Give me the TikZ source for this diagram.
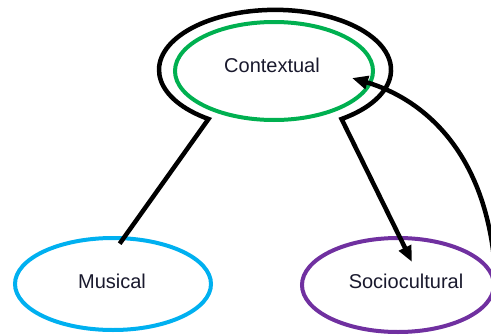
\documentclass[tikz,border=0pt]{standalone}
\usepackage{fontspec}
\setmainfont{Liberation Sans}
\usetikzlibrary{arrows.meta,shapes.geometric}
\definecolor{ctxgreen}{RGB}{0,176,80}
\definecolor{musblue}{RGB}{0,176,240}
\definecolor{socpurple}{RGB}{112,48,160}
\definecolor{labelink}{RGB}{25,25,45}
\begin{document}
\begin{tikzpicture}[x=1pt,y=1pt,
  ell/.style={draw=#1, line width=4pt, ellipse, inner sep=0pt},
  lbl/.style={text=labelink, font=\fontsize{20}{24}\selectfont, inner sep=0pt},
  blk/.style={draw=black, line width=4.5pt},
  tip/.style={-{Triangle[length=16pt,width=13pt]}}]
\useasboundingbox (0,0) rectangle (491,-335);
\clip (0,0) rectangle (491,-335);

% concept ellipses
\node[ell=ctxgreen, minimum width=198pt, minimum height=98pt] (ctx) at (274,-71) {};
\node[ell=musblue, minimum width=196pt, minimum height=92pt] (mus) at (113,-284) {};
\node[ell=socpurple, minimum width=192pt, minimum height=94pt] (soc) at (398,-285) {};

% labels
\node[lbl] (ctxt) at (272,-65) {Contextual};
\node[lbl] (must) at (112,-281) {Musical};
\node[lbl] (soct) at (406,-281) {Sociocultural};

% ends of the outer ring and arrow tips
\coordinate (legL) at (208.5,-119);
\coordinate (legR) at (339.5,-119);
\coordinate (socin) at (412,-262);
\coordinate (ctxin) at (352,-78);

% outer ring around Contextual, opening into two legs
\draw[blk, tip, shorten <=-9pt] (mus.76) -- (legL)
  arc[start angle=235, end angle=-55, x radius=116, y radius=60]
  -- (socin);

% feedback arrow from Sociocultural back to Contextual
\draw[blk, tip] (soc.east) .. controls (491,-150) and (420,-98) .. (ctxin);
\end{tikzpicture}
\end{document}
